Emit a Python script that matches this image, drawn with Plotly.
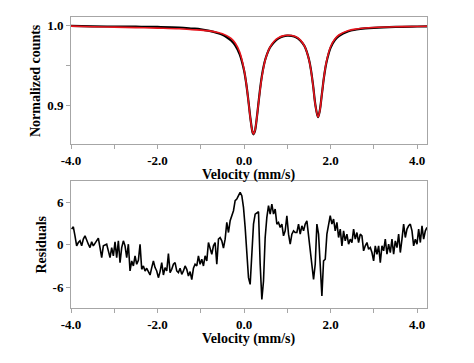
import numpy as np
import plotly.graph_objects as go

# ---- data ----
fit_v = [-4.0, -3.5, -3.0, -2.5, -2.0, -1.5, -1.2, -1.0, -0.8, -0.6,
         -0.5, -0.4, -0.3, -0.2, -0.1, 0.0, 0.05, 0.1, 0.15, 0.2,
         0.22, 0.25, 0.3, 0.35, 0.4, 0.45, 0.5, 0.6, 0.7, 0.8,
         0.9, 1.0, 1.1, 1.2, 1.3, 1.4, 1.5, 1.55, 1.6, 1.65,
         1.71, 1.75, 1.8, 1.85, 1.9, 2.0, 2.1, 2.2, 2.4, 2.6,
         2.8, 3.0, 3.5, 4.0, 4.23]
fit_y = [0.9995, 0.9988, 0.9982, 0.9976, 0.9970, 0.9962, 0.9950, 0.9945, 0.9935, 0.9915,
         0.9900, 0.9875, 0.9840, 0.9780, 0.9668, 0.9451, 0.9277, 0.9055, 0.8816, 0.8654,
         0.8638, 0.8674, 0.8859, 0.9098, 0.9309, 0.9470, 0.9587, 0.9731, 0.9808, 0.9850,
         0.9872, 0.9880, 0.9877, 0.9860, 0.9822, 0.9743, 0.9575, 0.9429, 0.9226, 0.8996,
         0.8851, 0.8923, 0.9138, 0.9362, 0.9534, 0.9736, 0.9834, 0.9886, 0.9937, 0.9959,
         0.9971, 0.9978, 0.9987, 0.9991, 0.9993]
data_y = [0.9997, 0.9992, 0.9990, 0.9988, 0.9985, 0.9978, 0.9965, 0.9955, 0.9935, 0.9905,
          0.9885, 0.9855, 0.9815, 0.9750, 0.9640, 0.9440, 0.9275, 0.9060, 0.8825, 0.8650,
          0.8632, 0.8668, 0.8860, 0.9105, 0.9320, 0.9480, 0.9590, 0.9725, 0.9795, 0.9840,
          0.9866, 0.9876, 0.9872, 0.9855, 0.9815, 0.9740, 0.9578, 0.9435, 0.9232, 0.9000,
          0.8848, 0.8925, 0.9140, 0.9358, 0.9525, 0.9722, 0.9820, 0.9874, 0.9928, 0.9952,
          0.9966, 0.9974, 0.9985, 0.9990, 0.9992]

residuals = [
    2.23, 2.56, 1.28, -0.14, 0.33, 0.57, -0.14, 0.81, 1.28, 0.57,
    0.09, -0.38, 0.43, -0.14, 0.19, 0.57, 0.95, -0.38, -1.80, -0.14,
    0.00, 0.09, -0.85, -1.80, -0.38, -1.56, 0.43, -1.80, 0.57, -2.51,
    -0.38, 0.57, -0.14, -1.80, 0.09, -3.70, -2.28, -2.99, -1.56, -2.75,
    -2.18, 0.09, -3.46, -2.99, -3.70, -3.32, -3.79, -4.27, -3.22, -2.28,
    -3.22, -3.70, -4.65, -3.79, -2.51, -4.27, -3.22, -3.70, -1.23, -3.94,
    -3.46, -2.75, -2.51, -3.70, -3.94, -3.32, -4.17, -3.70, -2.99, -3.46,
    -4.41, -3.79, -4.93, -3.32, -2.75, -2.99, -1.56, -2.75, -2.04, -2.99,
    -1.56, -2.28, 0.33, -0.38, -1.33, -0.14, 0.33, -2.75, 0.81, 1.04,
    0.57, -0.47, 0.81, 3.18, 1.75, 3.41, 4.13, 4.84, 6.26, 6.50,
    6.97, 7.44, 6.97, 5.31, 2.47, -1.80, -4.65, -5.60, -1.80, 2.94,
    4.36, 4.50, 4.69, -2.75, -7.73, -5.12, 1.04, 3.89, 5.55, 4.36,
    5.78, 4.36, 5.07, 2.94, 3.18, 2.47, 2.94, 1.28, 1.99, 4.13,
    1.52, 0.09, 1.52, 1.99, 1.75, 1.75, 2.94, 1.52, 2.70, 1.99,
    2.94, 3.41, 1.28, -0.38, -2.28, -4.88, -2.75, 2.94, 1.52, -3.70,
    -7.25, -2.28, -2.04, 1.52, 2.70, 4.13, 2.94, 3.65, 1.99, 3.18,
    1.04, 2.23, -0.14, 1.99, 0.57, 1.52, 0.09, 0.81, 0.33, 2.23,
    0.81, 1.75, 0.33, 1.52, 1.28, -0.85, -0.14, 0.33, -0.62, -0.38,
    -1.09, -2.28, -0.14, -1.33, -0.14, -2.51, -0.14, -0.85, 0.81, -1.33,
    0.09, -1.09, 0.81, -1.33, 0.57, -0.38, 1.52, -1.09, 0.81, 2.94,
    1.04, 2.23, 2.70, 2.94, 1.99, -0.14, 0.81, 0.09, 2.23, 0.33,
    2.70, 0.81, 1.99, 2.47]
res_v = np.linspace(-3.985, 4.23, len(residuals))

x_ticks = [-4, -3, -2, -1, 0, 1, 2, 3, 4]
x_labels = ["-4.0", "", "-2.0", "", "0.0", "", "2.0", "", "4.0"]
top_ticks = [0.9, 0.95, 1.0]
top_labels = ["0.9", "", "1.0"]
res_ticks = [-6, 0, 6]
res_labels = ["-6", "0", "6"]

FONT = "Liberation Serif"
AX = "#a6a6a6"

fig = go.Figure()
fig.add_trace(go.Scatter(x=fit_v, y=data_y, mode="lines", line=dict(color="black", width=2.2, shape="spline"),
                         xaxis="x", yaxis="y", showlegend=False))
fig.add_trace(go.Scatter(x=fit_v, y=fit_y, mode="lines", line=dict(color="#e8141c", width=1.6, shape="spline"),
                         xaxis="x", yaxis="y", showlegend=False))
fig.add_trace(go.Scatter(x=res_v, y=residuals, mode="lines", line=dict(color="black", width=1.6),
                         xaxis="x2", yaxis="y2", showlegend=False))

axis_common = dict(showline=True, linecolor=AX, linewidth=1, mirror=True, showgrid=False, zeroline=False,
                   ticks="outside", tickcolor=AX, ticklen=4, tickwidth=1, automargin=False,
                   tickfont=dict(family=FONT, size=13, color="black", weight="bold"))

tfont = dict(family=FONT, size=14, color="black", weight="bold")

fig.update_layout(
    template="none",
    width=466, height=355,
    margin=dict(l=63, r=47, t=9, b=55),
    paper_bgcolor="white", plot_bgcolor="white",
    xaxis=dict(domain=[0, 1], range=[-4.0, 4.23], anchor="y", tickmode="array", tickvals=x_ticks,
               ticktext=x_labels, **axis_common),
    yaxis=dict(domain=[0.5636, 1.0], range=[0.851, 1.011], anchor="x", tickmode="array", tickvals=top_ticks,
               ticktext=top_labels, **axis_common),
    xaxis2=dict(domain=[0, 1], range=[-4.0, 4.23], anchor="y2", tickmode="array", tickvals=x_ticks,
                ticktext=x_labels, **axis_common),
    yaxis2=dict(domain=[0.0, 0.4364], range=[-8.95, 9.05], anchor="x2", tickmode="array", tickvals=res_ticks,
                ticktext=res_labels, **axis_common),
    annotations=[
        dict(text="Velocity (mm/s)", x=0.5, y=0.457, xref="paper", yref="paper", showarrow=False,
             xanchor="center", yanchor="middle", font=tfont),
        dict(text="Velocity (mm/s)", x=0.5, y=-0.106, xref="paper", yref="paper", showarrow=False,
             xanchor="center", yanchor="middle", font=tfont),
        dict(text="Normalized counts", x=-0.101, y=0.78, xref="paper", yref="paper", showarrow=False,
             xanchor="center", yanchor="middle", textangle=-90, font=tfont),
        dict(text="Residuals", x=-0.0815, y=0.218, xref="paper", yref="paper", showarrow=False,
             xanchor="center", yanchor="middle", textangle=-90, font=tfont),
    ],
)

fig.write_html("out.html")
